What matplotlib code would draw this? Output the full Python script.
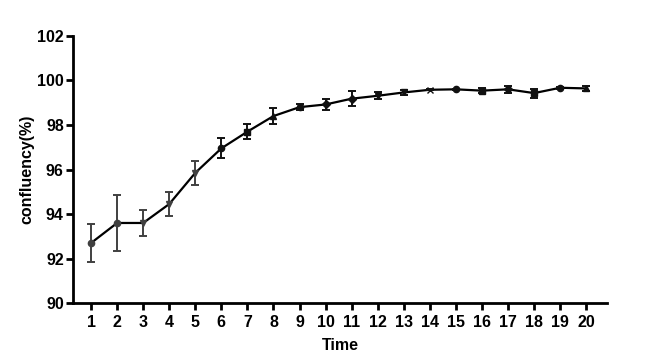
import matplotlib
matplotlib.use("Agg")
import matplotlib.pyplot as plt

plt.rcParams['font.family'] = ['Liberation Sans', 'DejaVu Sans']

time = list(range(1, 21))
confluency = [92.7, 93.6, 93.6, 94.45, 95.85, 96.95, 97.7, 98.4, 98.8, 98.92,
              99.18, 99.31, 99.46, 99.58, 99.6, 99.54, 99.6, 99.43, 99.67, 99.64]
err = [0.85, 1.25, 0.6, 0.55, 0.55, 0.45, 0.33, 0.35, 0.15, 0.25,
       0.35, 0.15, 0.13, 0.03, 0.03, 0.12, 0.15, 0.2, 0.05, 0.1]
markers = ['o', 'o', 'v', 'v', 'v', 'o', 's', '^', 'o', 'D',
           'D', 'v', 'v', 'x', 'o', 's', 'D', 's', 'o', '^']
colors = ['#404040'] * 5 + ['#111111'] * 15

fig = plt.figure(figsize=(6.5, 3.55), dpi=100)
ax = fig.add_axes([0.112, 0.146, 0.822, 0.753])

ax.plot(time, confluency, color='black', lw=1.6, zorder=2)
for x, y, e, m, c in zip(time, confluency, err, markers, colors):
    ax.errorbar(x, y, yerr=e, fmt='none', ecolor=c, elinewidth=1.4,
                capsize=3, capthick=1.4, zorder=3)
    ax.plot(x, y, marker=m, color=c, markersize=4.5, zorder=4)

ax.set_xlim(0.3, 20.8)
ax.set_ylim(90, 102)
ax.set_xticks(time)
ax.set_yticks([90, 92, 94, 96, 98, 100, 102])

for s in ['top', 'right']:
    ax.spines[s].set_visible(False)
for s in ['left', 'bottom']:
    ax.spines[s].set_linewidth(2)
ax.tick_params(axis='both', width=2, length=5, labelsize=11.5)
ax.tick_params(axis='y', pad=1.5)
for lab in ax.get_xticklabels() + ax.get_yticklabels():
    lab.set_fontweight('bold')

ax.set_xlabel('Time', fontsize=11.5, fontweight='bold', labelpad=6)
ax.set_ylabel('confluency(%)', fontsize=11.5, fontweight='bold')
ax.yaxis.set_label_coords(-0.071, 0.5)

fig.savefig('out.png', dpi=100)
